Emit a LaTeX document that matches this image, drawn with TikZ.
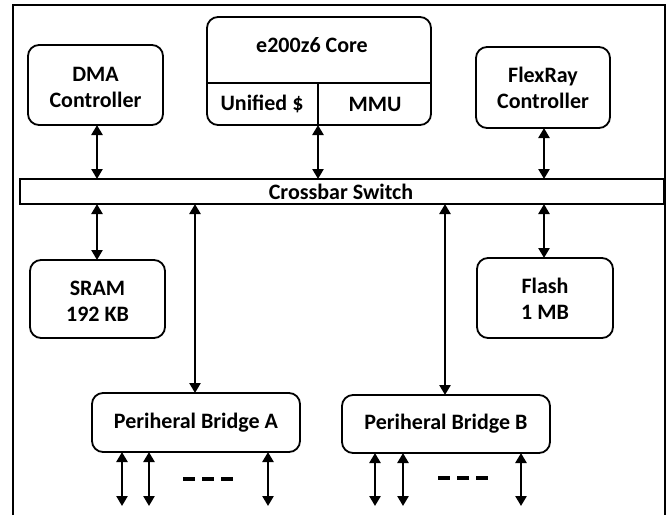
\documentclass[tikz,border=0pt]{standalone}
\usepackage{fontspec}
\setmainfont{Carlito}
\usetikzlibrary{arrows.meta}
\begin{document}
\begin{tikzpicture}[x=1pt,y=-1pt,
  blk/.style={draw,line width=1.8pt,rounded corners=11pt},
  lbl/.style={font=\fontsize{22}{26}\selectfont\bfseries,inner sep=0pt,align=center},
  bi/.style={line width=2.6pt,{Triangle[width=11pt,length=10pt]}-{Triangle[width=11pt,length=10pt]}},
  dsh/.style={line width=3.5pt,dash pattern=on 12pt off 7pt}]
\useasboundingbox (0,0) rectangle (666,515);
% frame
\draw[line width=1.8pt] (13,515) -- (13,5) -- (665,5) -- (665,515);
% boxes
\draw[blk] (28,45) rectangle (163,125);
\node[lbl] (dma) at (95.5,87) {DMA\\Controller};
\coordinate (dmaB) at (97,125);
\draw[blk] (207,17) rectangle (431,125);
\draw[line width=1.3pt] (207,83) -- (431,83);
\draw[line width=1.3pt] (318,83) -- (318,125);
\node[lbl] (core) at (312,45) {e200z6 Core};
\node[lbl] (uni) at (262,104) {Unified \$};
\node[lbl] (mmu) at (375,104) {MMU};
\coordinate (coreB) at (318,125);
\draw[blk] (476,47) rectangle (610,128);
\node[lbl] (flex) at (543,88) {FlexRay\\Controller};
\coordinate (flexB) at (544,128);
% crossbar
\draw[line width=1.5pt] (20,179) rectangle (664,204);
\node[lbl] (xbar) at (341,192) {Crossbar Switch};
\coordinate (xT1) at (97,179);
\coordinate (xT2) at (318,179);
\coordinate (xT3) at (544,179);
\coordinate (xB1) at (97,204);
\coordinate (xB2) at (195,204);
\coordinate (xB3) at (445,204);
\coordinate (xB4) at (544,204);
% memories
\draw[blk] (30,260) rectangle (165,338);
\node[lbl] (sram) at (97.5,301) {SRAM\\192 KB};
\coordinate (sramT) at (97,260);
\draw[blk] (477,258) rectangle (613,338);
\node[lbl] (flash) at (545,299) {Flash\\1 MB};
\coordinate (flashT) at (544,258);
% bridges
\draw[blk] (92,393) rectangle (300,452);
\node[lbl] (pba) at (196,423) {Periheral Bridge A};
\coordinate (pbaT) at (195,393);
\draw[blk] (342,395) rectangle (550,453);
\node[lbl] (pbb) at (446,424) {Periheral Bridge B};
\coordinate (pbbT) at (445,395);
% arrows
\draw[bi] (dmaB) -- (xT1);
\draw[bi] (coreB) -- (xT2);
\draw[bi] (flexB) -- (xT3);
\draw[bi] (xB1) -- (sramT);
\draw[bi] (xB4) -- (flashT);
\draw[bi] (xB2) -- (pbaT);
\draw[bi] (xB3) -- (pbbT);
\foreach \x in {122,149,268} \draw[bi] (\x,452) -- (\x,506);
\foreach \x in {375,403,521} \draw[bi] (\x,453) -- (\x,506);
\draw[dsh] (183,479) -- (238,479);
\draw[dsh] (438,478) -- (491,478);
\end{tikzpicture}
\end{document}
